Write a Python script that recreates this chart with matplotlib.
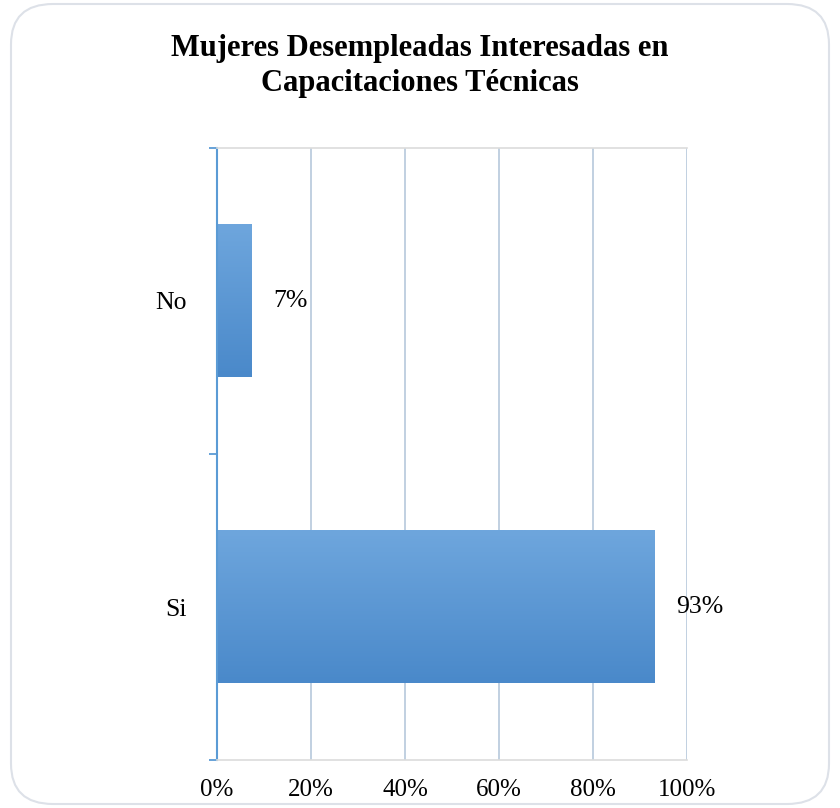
import numpy as np
import matplotlib.pyplot as plt
from matplotlib.patches import FancyBboxPatch
from matplotlib.colors import LinearSegmentedColormap

categorias = ["Si", "No"]
valores = [0.93, 0.074]
etiquetas = ["93%", "7%"]
ticks_x = [0, 0.2, 0.4, 0.6, 0.8, 1.0]
ticks_x_lab = ["0%", "20%", "40%", "60%", "80%", "100%"]
titulo = "Mujeres Desempleadas Interesadas en\nCapacitaciones Técnicas"

plt.rcParams['font.family'] = ['Liberation Serif', 'DejaVu Serif']

fig = plt.figure(figsize=(8.4, 8.08), dpi=100)
W, H = 840, 808

# marco redondeado
marco = FancyBboxPatch((11 / W, 4 / H), 818 / W, 800 / H,
                       boxstyle="round,pad=0,rounding_size=0.05",
                       transform=fig.transFigure, facecolor="white",
                       edgecolor="#DDE1E8", linewidth=1.5, zorder=-5)
fig.patches.append(marco)

ax = fig.add_axes([217 / W, 1 - 760 / H, 470 / W, 612 / H])
ax.patch.set_alpha(0)

grad = LinearSegmentedColormap.from_list("g", ["#4A89CA", "#6EA6DD"])
alto = 0.5
y = np.arange(len(categorias))
for i, v in enumerate(valores):
    img = np.linspace(0, 1, 100).reshape(-1, 1)
    ax.imshow(img, cmap=grad, aspect="auto", origin="lower",
              extent=[0, v, y[i] - alto / 2, y[i] + alto / 2], zorder=2)
    ax.text(v + 0.046, y[i], etiquetas[i], ha="left", va="center",
            fontsize=18.5, zorder=3)

ax.set_xlim(0, 1)
ax.set_ylim(-0.5, 1.5)

ax.set_xticks(ticks_x)
ax.set_xticklabels(ticks_x_lab, fontsize=18)
ax.tick_params(axis="x", length=0, pad=14)
for xv in ticks_x[1:]:
    ax.axvline(xv, color="#BCCDDE", linewidth=1.3, zorder=1)

ax.set_yticks([-0.5, 0.5, 1.5])
ax.set_yticklabels([])
ax.set_yticks(y, minor=True)
ax.set_yticklabels(categorias, minor=True, fontsize=18.5)
ax.tick_params(axis="y", which="major", length=6, width=1.3, color="#5B9BD5")
ax.tick_params(axis="y", which="minor", length=0, pad=21.5)

ax.spines["right"].set_visible(False)
for s in ["top", "bottom"]:
    ax.spines[s].set_color("#DCDCDC")
    ax.spines[s].set_linewidth(1.2)
ax.spines["left"].set_color("#5B9BD5")
ax.spines["left"].set_linewidth(1.5)

fig.text(0.5, 1 - 66 / H, titulo, ha="center", va="center", fontsize=22,
         fontweight="bold", linespacing=1.28)

fig.savefig("out.png", dpi=100)
